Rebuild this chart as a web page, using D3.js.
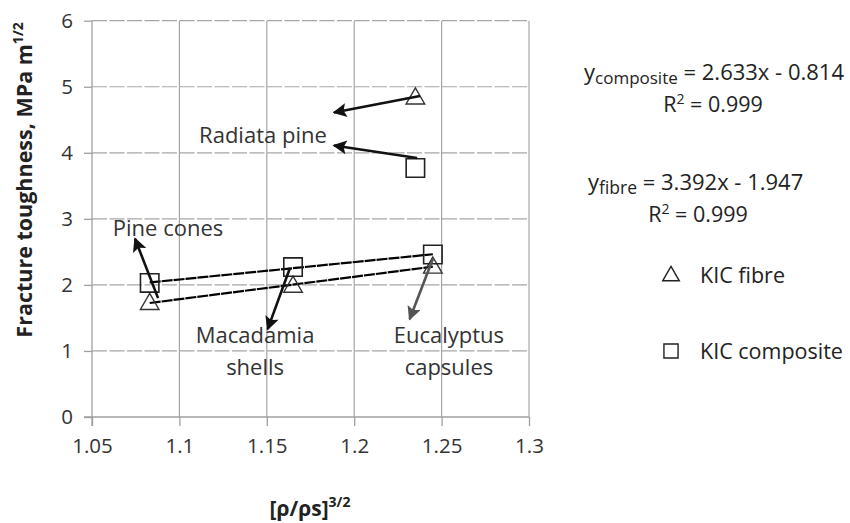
<!DOCTYPE html>
<html>
<head>
<meta charset="utf-8">
<script src="https://cdn.jsdelivr.net/npm/d3@7"></script>
<style>
  body { margin: 0; background: #fff; }
  svg { font-family: "Open Sans", Lato, sans-serif; }
</style>
</head>
<body>
<svg id="canvas" width="850" height="523"></svg>
<script>
// values
let xTicks = [1.05, 1.1, 1.15, 1.2, 1.25, 1.3]
let yTicks = [0, 1, 2, 3, 4, 5, 6]

let xValues = [1.083, 1.165, 1.245, 1.235]
let fibreValues = [1.71, 1.97, 2.26, 4.82]
let compositeValues = [2.03, 2.27, 2.46, 3.77]

// trend lines end points (from the fitted equations)
let trendX = [1.083, 1.245]
let fibreTrend = [1.726, 2.276]
let compositeTrend = [2.037, 2.464]

// arrows: tip at the "to" point, data units
let arrows = [
    {from: [1.2376, 4.86], to: [1.1884, 4.61], color: "#111"},
    {from: [1.236, 3.92], to: [1.1884, 4.11], color: "#111"},
    {from: [1.0878, 1.80], to: [1.0746, 2.70], color: "#111"},
    {from: [1.1633, 2.26], to: [1.1505, 1.33], color: "#111"},
    {from: [1.2451, 2.40], to: [1.2317, 1.48], color: "#555"}
]

let labels = [
    {lines: ["Radiata pine"], x: 1.1478, y: 4.15},
    {lines: ["Pine cones"], x: 1.0935, y: 2.74},
    {lines: ["Macadamia", "shells"], x: 1.1433, y: 1.12},
    {lines: ["Eucalyptus", "capsules"], x: 1.2542, y: 1.12}
]

let canvas = d3.select("#canvas")

let mLeft = 92, mRight = 529, mTop = 20.7, mBottom = 417

let x = d3.scaleLinear().domain([1.05, 1.3]).range([mLeft, mRight])
let y = d3.scaleLinear().domain([0, 6]).range([mBottom, mTop])

let grid = canvas.append("g")

grid.selectAll(".hgrid")
    .data(yTicks.filter(d => d > 0))
    .enter()
    .append("line")
    .attr("x1", mLeft)
    .attr("x2", mRight)
    .attr("y1", d => y(d))
    .attr("y2", d => y(d))
    .attr("stroke", "#a6a6a6")
    .attr("stroke-width", 1.2)
    .attr("stroke-dasharray", "15,2.5")

grid.selectAll(".vgrid")
    .data(xTicks.filter(d => d > 1.05))
    .enter()
    .append("line")
    .attr("x1", d => x(d))
    .attr("x2", d => x(d))
    .attr("y1", mTop)
    .attr("y2", mBottom)
    .attr("stroke", "#a6a6a6")
    .attr("stroke-width", 1.2)

// axes
let xAxis = d3.axisBottom(x).tickValues(xTicks).tickSize(9).tickPadding(12)
    .tickFormat(d => String(+d.toFixed(2)))
let yAxis = d3.axisLeft(y).tickValues(yTicks).tickSize(8).tickPadding(11)
    .tickFormat(d3.format("d"))

let gx = canvas.append("g")
    .attr("transform", `translate(0,${mBottom})`)
    .call(xAxis)
gx.select(".domain").attr("d", `M${mLeft - 8},0H${mRight}`)

let gy = canvas.append("g")
    .attr("transform", `translate(${mLeft},0)`)
    .call(yAxis)
gy.select(".domain").attr("d", `M0,${mTop}V${mBottom + 9}`)

canvas.selectAll(".domain, .tick line")
    .attr("stroke", "#a0a0a0")
    .attr("stroke-width", 1.3)
canvas.selectAll(".tick text")
    .attr("font-size", 20.5)
    .attr("fill", "#333")
    .attr("font-family", "'Open Sans', sans-serif")

// axis titles
canvas.append("text")
    .attr("transform", "translate(32,180) rotate(-90)")
    .attr("text-anchor", "middle")
    .attr("font-size", 21.5)
    .attr("font-weight", "bold")
    .attr("fill", "#222")
    .html('Fracture toughness, MPa m<tspan dy="-9" font-size="14">1/2</tspan>')

canvas.append("text")
    .attr("x", 310)
    .attr("y", 516)
    .attr("text-anchor", "middle")
    .attr("font-size", 21)
    .attr("font-weight", "bold")
    .attr("fill", "#222")
    .html('[ρ/ρs]<tspan dy="-9" font-size="14">3/2</tspan>')

// trend lines
let line = d3.line().x(d => x(d[0])).y(d => y(d[1]))
let trends = [d3.zip(trendX, compositeTrend), d3.zip(trendX, fibreTrend)]
canvas.selectAll(".trend")
    .data(trends)
    .enter()
    .append("path")
    .attr("d", line)
    .attr("fill", "none")
    .attr("stroke", "#000")
    .attr("stroke-width", 2.2)
    .attr("stroke-dasharray", "11,1")

// markers
let triangle = d3.symbol().type(d3.symbolTriangle).size(150)
let square = d3.symbol().type(d3.symbolSquare).size(340)

canvas.selectAll(".fibre")
    .data(d3.zip(xValues, fibreValues))
    .enter()
    .append("path")
    .attr("d", triangle)
    .attr("transform", d => `translate(${x(d[0])},${y(d[1])})`)
    .attr("fill", "none")
    .attr("stroke", "#333")
    .attr("stroke-width", 1.4)

canvas.selectAll(".composite")
    .data(d3.zip(xValues, compositeValues))
    .enter()
    .append("path")
    .attr("d", square)
    .attr("transform", d => `translate(${x(d[0])},${y(d[1])})`)
    .attr("fill", "none")
    .attr("stroke", "#222")
    .attr("stroke-width", 1.6)

// arrows
let defs = canvas.append("defs")
arrows.forEach((a, i) => {
    defs.append("marker")
        .attr("id", "head" + i)
        .attr("viewBox", "0 0 10 10")
        .attr("refX", 9)
        .attr("refY", 5)
        .attr("markerWidth", 17)
        .attr("markerHeight", 14)
        .attr("markerUnits", "userSpaceOnUse")
        .attr("orient", "auto")
        .append("path")
        .attr("d", "M0,0L10,5L0,10L2,5Z")
        .attr("fill", a.color)
})

canvas.selectAll(".arrow")
    .data(arrows)
    .enter()
    .append("line")
    .attr("x1", d => x(d.from[0]))
    .attr("y1", d => y(d.from[1]))
    .attr("x2", d => x(d.to[0]))
    .attr("y2", d => y(d.to[1]))
    .attr("stroke", d => d.color)
    .attr("stroke-width", 2.6)
    .attr("marker-end", (d, i) => `url(#head${i})`)

// annotation labels
canvas.selectAll(".label")
    .data(labels)
    .enter()
    .append("text")
    .attr("x", d => x(d.x))
    .attr("y", d => y(d.y))
    .attr("text-anchor", "middle")
    .attr("font-size", 22)
    .attr("fill", "#333")
    .selectAll("tspan")
    .data(d => d.lines.map((t, k) => ({t, k, x: x(d.x)})))
    .join("tspan")
    .attr("x", d => d.x)
    .attr("dy", d => d.k === 0 ? 0 : 32)
    .text(d => d.t)

// equations
let eq = canvas.append("g").attr("fill", "#222").attr("font-size", 22)
eq.append("text")
    .attr("x", 584)
    .attr("y", 80)
    .html('y<tspan font-size="17" dy="4">composite</tspan><tspan dy="-4"> = 2.633x - 0.814</tspan>')
eq.append("text")
    .attr("x", 713)
    .attr("y", 112)
    .attr("text-anchor", "middle")
    .attr("font-size", 21.5)
    .html('R<tspan font-size="14" dy="-8">2</tspan><tspan dy="8"> = 0.999</tspan>')
eq.append("text")
    .attr("x", 588)
    .attr("y", 190)
    .html('y<tspan font-size="17.5" dy="4">fibre</tspan><tspan dy="-4"> = 3.392x - 1.947</tspan>')
eq.append("text")
    .attr("x", 698)
    .attr("y", 222)
    .attr("text-anchor", "middle")
    .attr("font-size", 21.5)
    .html('R<tspan font-size="14" dy="-8">2</tspan><tspan dy="8"> = 0.999</tspan>')

// legend
let legendItems = ["KIC fibre", "KIC composite"]
let legend = canvas.append("g")
legend.selectAll(".lg")
    .data(legendItems)
    .enter()
    .append("path")
    .attr("d", (d, i) => i === 0 ? d3.symbol().type(d3.symbolTriangle).size(120)() : d3.symbol().type(d3.symbolSquare).size(200)())
    .attr("transform", (d, i) => `translate(671,${i === 0 ? 276 : 351})`)
    .attr("fill", "none")
    .attr("stroke", "#222")
    .attr("stroke-width", 1.4)
legend.selectAll(".lt")
    .data(legendItems)
    .enter()
    .append("text")
    .attr("x", 700)
    .attr("y", (d, i) => i === 0 ? 283 : 359)
    .attr("font-size", 21.5)
    .attr("fill", "#222")
    .text(d => d)
</script>
</body>
</html>
